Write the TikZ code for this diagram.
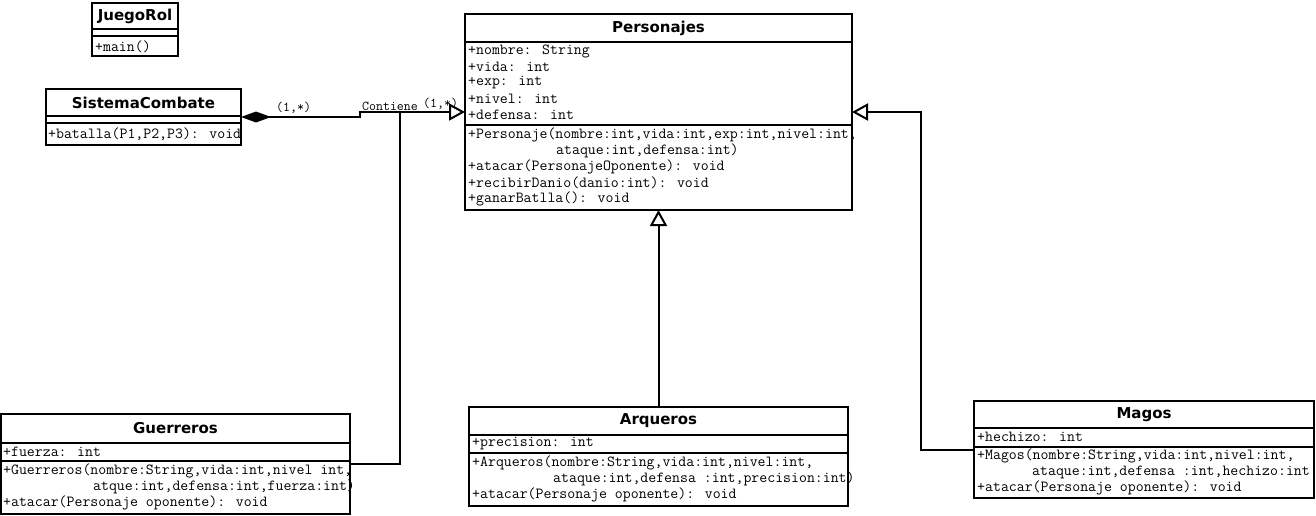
\documentclass[tikz,border=0pt]{standalone}
\usepackage{fontspec}
\newfontfamily\titlef{DejaVu Sans}
\usetikzlibrary{arrows.meta}
\begin{document}
\begin{tikzpicture}[x=1pt,y=-1pt,
  classbox/.style={draw, line width=2pt, anchor=north west, inner sep=0pt, outer sep=0pt},
  sepline/.style={line width=2pt},
  ctitle/.style={font=\titlef\bfseries\fontsize{15}{17}\selectfont, inner sep=0pt},
  member/.style={font=\ttfamily\fontsize{15.4}{16}\selectfont, anchor=west, inner sep=0pt},
  lbl/.style={font=\ttfamily\fontsize{13.5}{14}\selectfont, anchor=west, inner sep=0pt},
  gen/.style={-{Triangle[open,length=16pt,width=17pt]}},
  comp/.style={{Diamond[length=30pt,width=11pt]}-{Triangle[open,length=16pt,width=17pt]}}
]
\useasboundingbox (0,0) rectangle (1316,515);

% JuegoRol
\node[classbox, minimum width=86pt, minimum height=53pt] (jr) at (92,3) {};
\draw[sepline] (92,29) -- (178,29);
\draw[sepline] (92,36) -- (178,36);
\node[ctitle] (jrt) at (135,16) {JuegoRol};
\node[member] (jrm) at (95,46.5) {+main()};

% SistemaCombate
\node[classbox, minimum width=195pt, minimum height=56pt] (sc) at (46,89) {};
\draw[sepline] (46,116) -- (241,116);
\draw[sepline] (46,123) -- (241,123);
\node[ctitle] (sct) at (143.5,103) {SistemaCombate};
\node[member] (scm) at (48,134) {+batalla(P1,P2,P3): void};

% Personajes
\node[classbox, minimum width=387pt, minimum height=196pt] (pers) at (465,14) {};
\draw[sepline] (465,42) -- (852,42);
\draw[sepline] (465,125) -- (852,125);
\node[ctitle] (perst) at (658.5,28) {Personajes};
\node[member] (pa1) at (468,51) {+nombre: String};
\node[member] (pa2) at (468,67) {+vida: int};
\node[member] (pa3) at (468,83) {+exp: int};
\node[member] (pa4) at (468,99) {+nivel: int};
\node[member] (pa5) at (468,115) {+defensa: int};
\node[member] (pm1) at (468,135) {+Personaje(nombre:int,vida:int,exp:int,nivel:int,};
\node[member] (pm1b) at (556,151) {ataque:int,defensa:int)};
\node[member] (pm2) at (468,167) {+atacar(PersonajeOponente): void};
\node[member] (pm3) at (468,183) {+recibirDanio(danio:int): void};
\node[member] (pm4) at (468,199) {+ganarBatlla(): void};

% Guerreros
\node[classbox, minimum width=349pt, minimum height=100pt] (guer) at (1,414) {};
\draw[sepline] (1,443) -- (350,443);
\draw[sepline] (1,461) -- (350,461);
\node[ctitle] (guert) at (175.5,428.5) {Guerreros};
\node[member] (ga1) at (3,451.5) {+fuerza: int};
\node[member] (gm1) at (3,471) {+Guerreros(nombre:String,vida:int,nivel int,};
\node[member] (gm1b) at (93,487) {atque:int,defensa:int,fuerza:int)};
\node[member] (gm2) at (3,503) {+atacar(Personaje oponente): void};

% Arqueros
\node[classbox, minimum width=379pt, minimum height=99pt] (arq) at (469,407) {};
\draw[sepline] (469,435) -- (848,435);
\draw[sepline] (469,453) -- (848,453);
\node[ctitle] (arqt) at (658.5,421) {Arqueros};
\node[member] (aa1) at (472,443.5) {+precision: int};
\node[member] (am1) at (472,463) {+Arqueros(nombre:String,vida:int,nivel:int,};
\node[member] (am1b) at (553,479) {ataque:int,defensa :int,precision:int)};
\node[member] (am2) at (472,495) {+atacar(Personaje oponente): void};

% Magos
\node[classbox, minimum width=340pt, minimum height=97pt] (mag) at (974,401) {};
\draw[sepline] (974,428) -- (1314,428);
\draw[sepline] (974,447) -- (1314,447);
\node[ctitle] (magt) at (1144,414.5) {Magos};
\node[member] (ma1) at (977,437) {+hechizo: int};
\node[member] (mm1) at (977,456) {+Magos(nombre:String,vida:int,nivel:int,};
\node[member] (mm1b) at (1032,472) {ataque:int,defensa :int,hechizo:int};
\node[member] (mm2) at (977,488) {+atacar(Personaje oponente): void};

% connectors
\coordinate (bend) at (360,117);
\coordinate (join) at (400,112);
\draw[comp, line width=2pt] (sc.east) -- (bend) -- ++(0,-5) -- (pers.west);
\draw[line width=2pt] (guer.east) -| (join);
\draw[gen, line width=2pt] (arq.north) -- (pers.south);
\draw[gen, line width=2pt] (mag.west) -- ++(-53,0) |- (pers.east);

\node[lbl] (l1) at (276,108) {(1,*)};
\node[lbl] (l2) at (362,106.5) {Contiene};
\node[lbl] (l3) at (423,103.5) {(1,*)};
\end{tikzpicture}
\end{document}
